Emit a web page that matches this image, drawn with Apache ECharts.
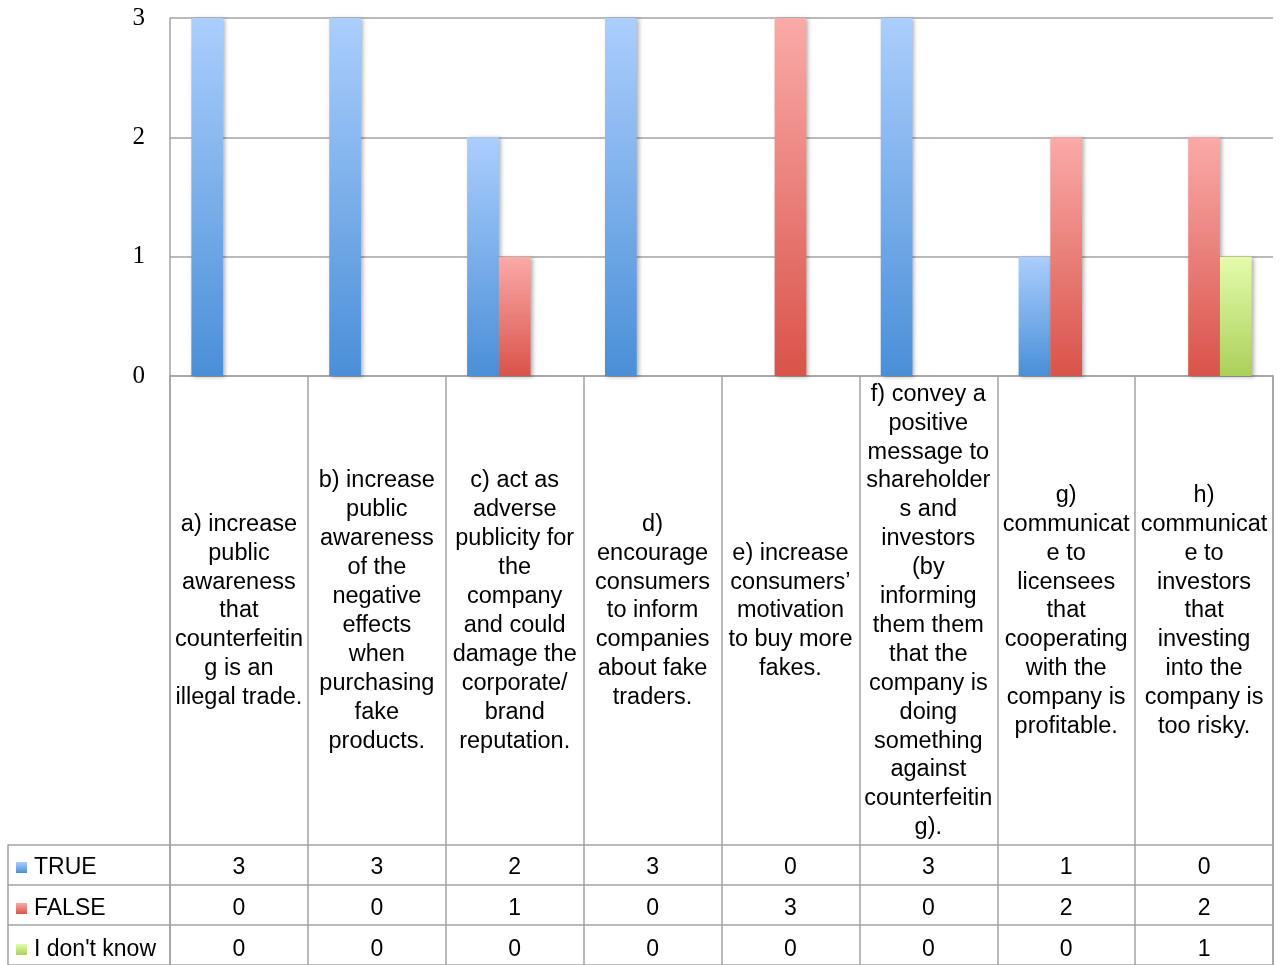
<!DOCTYPE html>
<html>
<head>
	<meta charset="utf-8">
	<title></title>
	<script src="https://cdn.jsdelivr.net/npm/echarts@6/dist/echarts.min.js"></script>
	<style>
		body { margin: 0; background: #fff; }
	</style>
</head>

<body>
	<div id="main" style="width: 1287px; height: 965px;"></div>
	<script>

		// category labels, broken the same way as in the table cells
		var categories = [
			"a) increase\npublic\nawareness\nthat\ncounterfeitin\ng is an\nillegal trade.",
			"b) increase\npublic\nawareness\nof the\nnegative\neffects\nwhen\npurchasing\nfake\nproducts.",
			"c) act as\nadverse\npublicity for\nthe\ncompany\nand could\ndamage the\ncorporate/\nbrand\nreputation.",
			"d)\nencourage\nconsumers\nto inform\ncompanies\nabout fake\ntraders.",
			"e) increase\nconsumers\u2019\nmotivation\nto buy more\nfakes.",
			"f) convey a\npositive\nmessage to\nshareholder\ns and\ninvestors\n(by\ninforming\nthem them\nthat the\ncompany is\ndoing\nsomething\nagainst\ncounterfeitin\ng).",
			"g)\ncommunicat\ne to\nlicensees\nthat\ncooperating\nwith the\ncompany is\nprofitable.",
			"h)\ncommunicat\ne to\ninvestors\nthat\ninvesting\ninto the\ncompany is\ntoo risky."
		]
		var seriesNames = ["TRUE", "FALSE", "I don't know"]
		var trueVals  = [3, 3, 2, 3, 0, 3, 1, 0]
		var falseVals = [0, 0, 1, 0, 3, 0, 2, 2]
		var dkVals    = [0, 0, 0, 0, 0, 0, 0, 1]
		var yTicks = [0, 1, 2, 3]

		var rows = [trueVals, falseVals, dkVals]
		var grad = [
			["#abcefd", "#4a8fd7"],
			["#faaaa8", "#d9534a"],
			["#e4fcab", "#abcf5a"]
		]
		var lineCol = "#a3a3a3"
		var txtFont = "Liberation Sans, Arial, sans-serif"

		var mCharts = echarts.init(document.getElementById("main"))

		function gradient(c) {
			return new echarts.graphic.LinearGradient(0, 0, 0, 1, [
				{ offset: 0, color: c[0] },
				{ offset: 1, color: c[1] }
			])
		}

		// value rows of the data table, hung under the chart axis
		var rowAxes = rows.map(function (vals, r) {
			return {
				type: "category",
				gridIndex: 0,
				position: "bottom",
				data: categories,
				axisLine: { show: false },
				axisTick: { show: false },
				axisLabel: {
					interval: 0,
					margin: 492 + r * 41,
					verticalAlign: "middle",
					fontSize: 23,
					fontFamily: txtFont,
					color: "#000",
					formatter: function (v, i) { return String(vals[i]) }
				}
			}
		})

		var opt = {
			animation: false,
			legend: {
				orient: "vertical",
				left: 16,
				top: 856,
				itemGap: 18,
				itemWidth: 11,
				itemHeight: 11,
				icon: "rect",
				padding: 0,
				textStyle: { fontSize: 23, fontFamily: txtFont, color: "#000", padding: [0, 0, 0, 2] },
				data: seriesNames
			},
			grid: [
				{ left: 170, right: 14, top: 18, bottom: 589 },
				{ left: 170, right: 14, top: 376, bottom: 0 },
				{ left: 8, right: 14, top: 845, bottom: -3 }
			],
			xAxis: [
				{
					type: "category",
					gridIndex: 0,
					data: categories,
					axisLine: { lineStyle: { color: lineCol, width: 1.5 } },
					axisTick: { show: false },
					axisLabel: {
						interval: 0,
						margin: 235,
						verticalAlign: "middle",
						align: "center",
						lineHeight: 28.9,
						fontSize: 23.5,
						fontFamily: txtFont,
						color: "#000"
					}
				}
			].concat(rowAxes).concat([
				{
					type: "category",
					gridIndex: 1,
					data: categories,
					axisLine: { show: false },
					axisTick: { show: false },
					axisLabel: { show: false },
					splitLine: { show: true, interval: 0, lineStyle: { color: lineCol, width: 1.5 } }
				},
				{
					type: "value",
					gridIndex: 2,
					show: false
				}
			]),
			yAxis: [
				{
					type: "value",
					gridIndex: 0,
					min: 0,
					max: 3,
					interval: 1,
					axisLine: { show: true, lineStyle: { color: lineCol, width: 1.5 } },
					axisTick: { show: false },
					splitLine: { lineStyle: { color: lineCol, width: 1.5 } },
					axisLabel: {
						margin: 25,
						fontSize: 25,
						fontFamily: "Liberation Serif, Times New Roman, serif",
						color: "#000",
						formatter: function (v) { return yTicks.indexOf(v) >= 0 ? String(v) : "" }
					}
				},
				{
					type: "value",
					gridIndex: 1,
					axisLine: { show: true, lineStyle: { color: lineCol, width: 1.5 } },
					axisTick: { show: false },
					axisLabel: { show: false },
					splitLine: { show: false }
				},
				{
					type: "value",
					gridIndex: 1,
					position: "right",
					axisLine: { show: true, lineStyle: { color: lineCol, width: 1.5 } },
					axisTick: { show: false },
					axisLabel: { show: false },
					splitLine: { show: false }
				},
				{
					type: "category",
					gridIndex: 2,
					inverse: true,
					data: seriesNames,
					axisLine: { show: true, lineStyle: { color: lineCol, width: 1.5 } },
					axisTick: { show: false },
					axisLabel: { show: false },
					splitLine: { show: true, interval: 0, lineStyle: { color: lineCol, width: 1.5 } }
				}
			],
			series: rows.map(function (vals, r) {
				return {
					name: seriesNames[r],
					type: "bar",
					xAxisIndex: 0,
					yAxisIndex: 0,
					barGap: "0%",
					barCategoryGap: "31%",
					data: vals.map(function (v) { return v === 0 ? "-" : v }),
					itemStyle: {
						color: gradient(grad[r]),
						shadowBlur: 4,
						shadowOffsetX: 2,
						shadowOffsetY: 1,
						shadowColor: "rgba(0,0,0,0.3)"
					}
				}
			})
		}

		mCharts.setOption(opt)

	</script>

</body>
</html>
